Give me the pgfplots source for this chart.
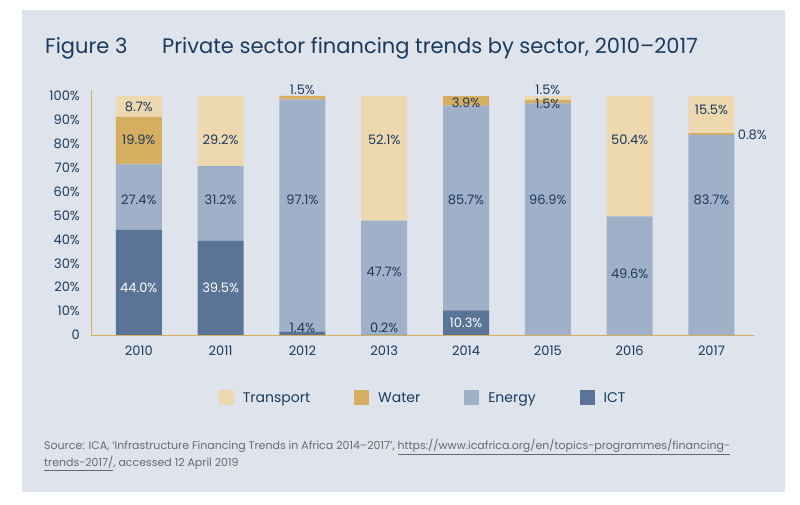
\documentclass[border=0pt]{standalone}
\usepackage{pgfplots}
\pgfplotsset{compat=1.18}
\usepackage{fontspec}
\setmainfont{Poppins}
\definecolor{bg}{HTML}{DFE3EC}
\definecolor{transport}{HTML}{EDD8AF}
\definecolor{water}{HTML}{D5AE5F}
\definecolor{energy}{HTML}{A0B0C8}
\definecolor{ict}{HTML}{5A7498}
\definecolor{navy}{HTML}{1A3A5E}
\definecolor{srcgray}{HTML}{666A70}
\tikzset{lbl/.style={font=\fontsize{13}{15}\selectfont, text=navy, inner sep=0pt}}
\pgfplotsset{sq/.style={legend image code/.code={\fill[#1] (0pt,-7.5pt) rectangle (15pt,7.5pt);}}}
\begin{document}
\begin{tikzpicture}[x=1pt,y=1pt]
\fill[white] (0,0) rectangle (800,505);
\fill[bg] (22,13) rectangle (785,495);
\node[anchor=base west, font=\fontsize{21}{25}\selectfont, text=navy, inner sep=0] at (45,451) {Figure 3};
\node[anchor=base west, font=\fontsize{21}{25}\selectfont, text=navy, inner sep=0] at (162,451) {Private sector financing trends by sector, 2010–2017};
\begin{axis}[at={(91pt,170pt)}, anchor=south west, scale only axis,
  width=663pt, height=245pt,
  ymin=0, ymax=102.5, xmin=-0.584, xmax=7.52,
  ybar stacked, bar width=46pt,
  axis x line*=bottom, axis y line*=left,
  axis line style={water, line width=0.8pt, -},
  ytick={0,10,20,30,40,50,60,70,80,90,100},
  yticklabels={0,10\%,20\%,30\%,40\%,50\%,60\%,70\%,80\%,90\%,100\%},
  xtick={0,1,2,3,4,5,6,7},
  xticklabels={2010,2011,2012,2013,2014,2015,2016,2017},
  major tick length=0,
  tick label style={font=\fontsize{13}{15}\selectfont, text=navy},
  yticklabel style={anchor=east, inner sep=0pt, xshift=-11pt},
  xticklabel style={anchor=north, inner sep=0pt, yshift=-11pt},
  /pgf/number format/assume math mode=true,
  clip=false,
  reverse legend,
  legend columns=4,
  legend style={at={(0.4995,-0.257)}, anchor=center, draw=none, fill=none,
    font=\fontsize{14}{17}\selectfont, text=navy,
    nodes={inner sep=0pt},
    /tikz/every odd column/.append style={column sep=9pt},
    /tikz/every even column/.append style={column sep=44pt}},
]
\addplot[fill=ict, draw=none, sq] coordinates {(0,44.0) (1,39.5) (2,1.4) (3,0.2) (4,10.3) (5,0) (6,0) (7,0)};
\addlegendentry{ICT}
\addplot[fill=energy, draw=none, sq] coordinates {(0,27.4) (1,31.2) (2,97.1) (3,47.7) (4,85.7) (5,96.9) (6,49.6) (7,83.7)};
\addlegendentry{Energy}
\addplot[fill=water, draw=none, sq] coordinates {(0,19.9) (1,0) (2,1.5) (3,0) (4,3.9) (5,1.5) (6,0) (7,0.8)};
\addlegendentry{Water}
\addplot[fill=transport, draw=none, sq] coordinates {(0,8.7) (1,29.2) (2,0) (3,52.1) (4,0) (5,1.5) (6,50.4) (7,15.5)};
\addlegendentry{Transport}
% label anchors
\coordinate (a1) at (axis cs:0,95.4);
\coordinate (a2) at (axis cs:0,81.6);
\coordinate (a3) at (axis cs:0,56.5);
\coordinate (a4) at (axis cs:0,19.7);
\coordinate (b1) at (axis cs:1,81.6);
\coordinate (b2) at (axis cs:1,56.5);
\coordinate (b3) at (axis cs:1,19.7);
\coordinate (c1) at (axis cs:2,102.5);
\coordinate (c2) at (axis cs:2,56.5);
\coordinate (c3) at (axis cs:2,3);
\coordinate (d1) at (axis cs:3,81.6);
\coordinate (d2) at (axis cs:3,26.4);
\coordinate (d3) at (axis cs:3,3);
\coordinate (e1) at (axis cs:4,97);
\coordinate (e2) at (axis cs:4,56.5);
\coordinate (e3) at (axis cs:4,5);
\coordinate (f1) at (axis cs:5,102.5);
\coordinate (f2) at (axis cs:5,96.6);
\coordinate (f3) at (axis cs:5,56.5);
\coordinate (g1) at (axis cs:6,81.6);
\coordinate (g2) at (axis cs:6,25.5);
\coordinate (h1) at (axis cs:7,94.1);
\coordinate (h2) at (axis cs:7,56.5);
\coordinate (h3) at (axis cs:7.32,83.7);
\end{axis}
\node[lbl] at (a1) {8.7\%};
\node[lbl] at (a2) {19.9\%};
\node[lbl] at (a3) {27.4\%};
\node[lbl, text=white] at (a4) {44.0\%};
\node[lbl] at (b1) {29.2\%};
\node[lbl] at (b2) {31.2\%};
\node[lbl, text=white] at (b3) {39.5\%};
\node[lbl] at (c1) {1.5\%};
\node[lbl] at (c2) {97.1\%};
\node[lbl] at (c3) {1.4\%};
\node[lbl] at (d1) {52.1\%};
\node[lbl] at (d2) {47.7\%};
\node[lbl] at (d3) {0.2\%};
\node[lbl] at (e1) {3.9\%};
\node[lbl] at (e2) {85.7\%};
\node[lbl, text=white] at (e3) {10.3\%};
\node[lbl] at (f1) {1.5\%};
\node[lbl] at (f2) {1.5\%};
\node[lbl] at (f3) {96.9\%};
\node[lbl] at (g1) {50.4\%};
\node[lbl] at (g2) {49.6\%};
\node[lbl] at (h1) {15.5\%};
\node[lbl] at (h2) {83.7\%};
\node[lbl, anchor=west] at (h3) {0.8\%};
\node[anchor=base west, font=\fontsize{11}{13}\selectfont, text=srcgray, inner sep=0] at (44,55) {Source: ICA, ‘Infrastructure Financing Trends in Africa 2014–2017’, \underline{https://www.icafrica.org/en/topics-programmes/financing-}};
\node[anchor=base west, font=\fontsize{11}{13}\selectfont, text=srcgray, inner sep=0] at (44,38) {\underline{trends-2017/}, accessed 12 April 2019};
\end{tikzpicture}
\end{document}
